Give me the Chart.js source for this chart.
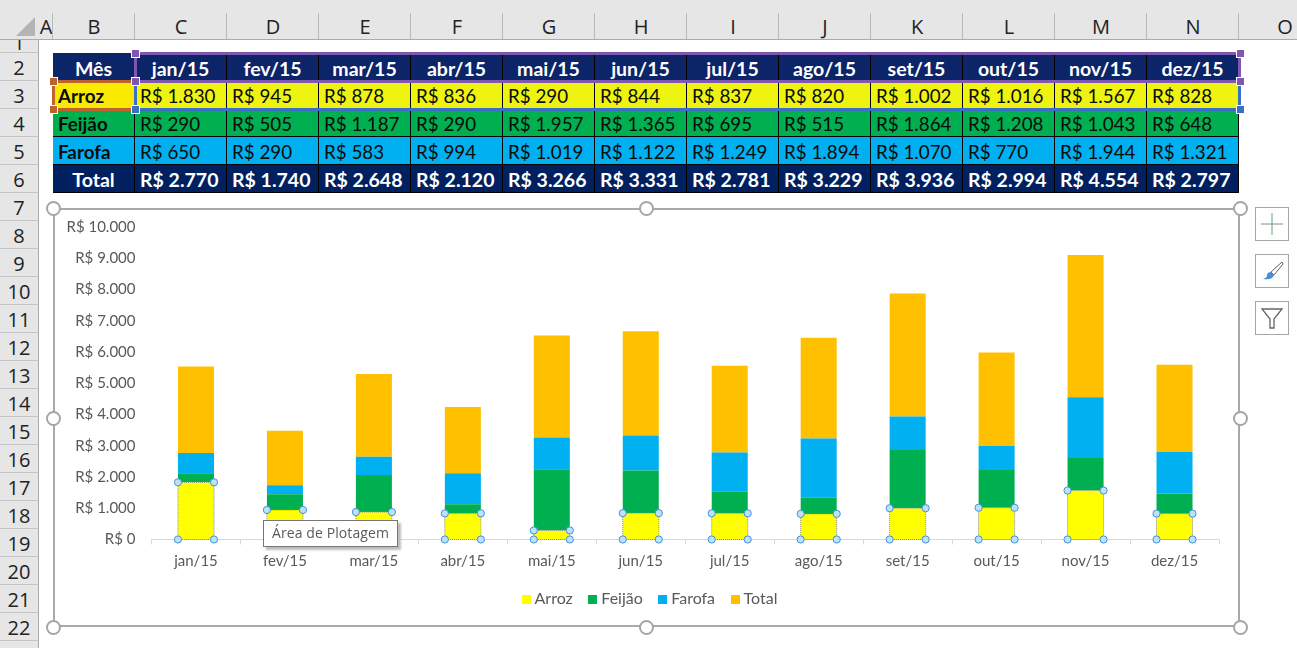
<!DOCTYPE html>
<html><head><meta charset="utf-8">
<script src="https://cdn.jsdelivr.net/npm/chart.js@4"></script>
<style>
html,body{margin:0;padding:0;background:#fff;width:1297px;height:648px;overflow:hidden}
#sheet{position:relative;width:1297px;height:648px;overflow:hidden;font-family:Lato,sans-serif}
.a{position:absolute;box-sizing:border-box}
.hdr{background:#e6e6e6;color:#222;font-size:19px;display:flex;align-items:center;justify-content:center;font-family:"Open Sans",sans-serif}
.cell{display:flex;align-items:center;white-space:nowrap;font-size:18.8px;padding-top:2px;border-right:1px solid #000;border-bottom:1px solid #000;color:#0b0b0b}
.navy{background:#002060;color:#fff;font-weight:bold;font-size:19.5px;justify-content:center}
.left{padding-left:5px;justify-content:flex-start}
.hd{width:7px;height:7px;position:absolute;border:1px solid #fff;box-sizing:content-box}
.ring{position:absolute;width:11px;height:11px;border:2px solid #a6a6a6;border-radius:50%;background:#fff}
.tool{position:absolute;left:1255px;width:34px;height:34px;border:1px solid #a6a6a6;background:#fff;box-sizing:border-box}
#tip{position:absolute;left:263px;top:520px;height:25px;width:133px;background:#fff;border:1px solid #767676;box-shadow:3px 3px 2px #bdbdbd;font:14px "Open Sans",sans-serif;color:#5a5a5a;line-height:24px;text-align:center;letter-spacing:.1px}
</style></head><body><div id="sheet"></div>
<script>
const months=["jan/15","fev/15","mar/15","abr/15","mai/15","jun/15","jul/15","ago/15","set/15","out/15","nov/15","dez/15"];
const arroz=[1830,945,878,836,290,844,837,820,1002,1016,1567,828];
const feijao=[290,505,1187,290,1957,1365,695,515,1864,1208,1043,648];
const farofa=[650,290,583,994,1019,1122,1249,1894,1070,770,1944,1321];
const total=[2770,1740,2648,2120,3266,3331,2781,3229,3936,2994,4554,2797];
const seriesNames=["Arroz","Feijão","Farofa","Total"];
const seriesColors=["#FFFF00","#00B050","#00B0F0","#FFC000"];
const rowFill=["#EEF30F","#00B050","#00B0F0"];
const columnLetters=["C","D","E","F","G","H","I","J","K","L","M","N"];
const yTicks=[0,1000,2000,3000,4000,5000,6000,7000,8000,9000,10000];

const brl=v=>"R$ "+String(v).replace(/\B(?=(\d{3})+$)/g,".");
const sheet=document.getElementById("sheet");
function el(cls,l,t,w,h,txt,style){const d=document.createElement("div");d.className="a "+cls;d.style.cssText=`left:${l}px;top:${t}px;width:${w}px;height:${h}px;`+(style||"");if(txt!=null)d.textContent=txt;sheet.appendChild(d);return d}

// worksheet chrome
el("",0,0,1297,40,null,"background:#e6e6e6");
el("",0,40,39,608,null,"background:#e6e6e6");
el("",0,39,1297,1,null,"background:#ababab");
el("",38,40,1,608,null,"background:#ababab");
el("",16,17,19,19,null,"background:#b4b4b4;clip-path:polygon(100% 0,100% 100%,0 100%)");
const colX=[39,53,135];for(let i=0;i<13;i++)colX.push(135+92*(i+1));
["A","B",...columnLetters,"O"].forEach((c,i)=>{const r=colX[i+1]||1332;el("hdr",colX[i],13,r-colX[i],26,c,"background:transparent;font-size:20px");if(i<14)el("",r-1,13,1,26,null,"background:#b9b9b9")});
for(let r=1;r<=22;r++){const top=r==1?40:53+(r-2)*28,h=r==1?13:28;el("hdr",0,top,38,h,String(r),"background:transparent;overflow:hidden;border-bottom:1px solid #c4c4c4;font-size:20px;padding-top:1px;"+(r==1?"align-items:flex-end;line-height:8px;padding-top:0;padding-bottom:5px":""));}

// data table
const X=i=>135+92*i, Y=r=>53+(r-2)*28;
function cell(l,t,w,txt,cls,style){return el("cell "+cls,l,t,w,28,txt,style)}
cell(53,Y(2),82,"Mês","navy","background:#0C2468;padding-top:4px");
months.forEach((m,i)=>cell(X(i),Y(2),92,m,"navy","background:#0C2468;padding-top:4px"));
[["Arroz",arroz],["Feijão",feijao],["Farofa",farofa]].forEach(([n,a],k)=>{
 cell(53,Y(3+k),82,n,"left","font-weight:bold;background:"+(k==0?"#F9EA00":rowFill[k]));
 a.forEach((v,i)=>cell(X(i),Y(3+k),92,brl(v),"left","background:"+rowFill[k]));
});
cell(53,Y(6),82,"Total","navy");
total.forEach((v,i)=>cell(X(i),Y(6),92,brl(v),"navy left"));

// range selection outlines
const P="#7E57B0",B="#3A6FC4",O="#C0622B";
el("",135,52,1105,3,null,"background:"+P);el("",135,80,1105,3,null,"background:"+P);
el("",134,53,3,28,null,"background:"+P);el("",1238,53,3,28,null,"background:"+P);
el("",135,108,1105,3,null,"background:"+B);el("",134,81,3,28,null,"background:"+B);el("",1238,81,3,28,null,"background:"+B);
el("",52,80,83,3,null,"background:"+O);el("",52,108,83,3,null,"background:"+O);el("",52,81,3,28,null,"background:"+O);
[[135,53,P],[1240,53,P],[135,81,P],[1240,81,P],[135,109,B],[1240,109,B],[53,81,O],[53,109,O]].forEach(([x,y,c])=>{const d=document.createElement("div");d.className="hd";d.style.cssText+=`left:${x-4}px;top:${y-4}px;background:${c}`;sheet.appendChild(d)});

// chart frame
el("",53,208,1187,419,null,"border:2px solid #a9a9a9;background:#fff");
const cw=document.createElement("canvas");cw.style.cssText="position:absolute;left:0;top:0;display:block";cw.width=1183;cw.height=415;
el("",55,210,1183,415).appendChild(cw);
[[53,208],[646,208],[1240,208],[53,418],[1240,418],[53,627],[646,627],[1240,627]].forEach(([x,y])=>{const d=document.createElement("div");d.className="ring";d.style.left=x-7+"px";d.style.top=y-7+"px";sheet.appendChild(d)});

// side tool buttons
const t1=document.createElement("div");t1.className="tool";t1.style.top="207px";t1.innerHTML='<svg width="32" height="32"><path d="M5 16h22" stroke="#8a8a8a"/><path d="M16 5v22" stroke="#5aa86f"/></svg>';sheet.appendChild(t1);
const t2=document.createElement("div");t2.className="tool";t2.style.top="254px";t2.innerHTML='<svg width="32" height="32"><path d="M26 7l1 2-9 11-3-3z" fill="#fff" stroke="#666"/><path d="M15 17l3 3c-1 4-5 5-11 4 3-1 4-2 4-4s2-3 4-3z" fill="#4a90d9"/></svg>';sheet.appendChild(t2);
const t3=document.createElement("div");t3.className="tool";t3.style.top="301px";t3.innerHTML='<svg width="32" height="32"><path d="M6 7h20l-8 10v9h-4v-9z" fill="#fff" stroke="#666" stroke-width="1.3"/></svg>';sheet.appendChild(t3);

// selection handles of the first series, taken from the library's bar elements
const handles={id:"handles",afterDatasetsDraw(c){const g=c.ctx,m=c.getDatasetMeta(0);
 m.data.forEach(b=>{const p=b.getProps(["x","y","base","width"]);const l=p.x-p.width/2,r=p.x+p.width/2;
  g.save();g.setLineDash([1,1]);g.strokeStyle="#8c8c8c";g.lineWidth=1;g.strokeRect(l,p.y,p.width,p.base-p.y);g.setLineDash([]);
  [[l,p.y],[r,p.y],[l,p.base],[r,p.base]].forEach(([x,y])=>{g.beginPath();g.arc(x,y,3.6,0,7);g.fillStyle="#BFE0F7";g.fill();g.strokeStyle="#3F94DA";g.lineWidth=1;g.stroke()});
  g.restore()})}};

// legend swatches: small canvases so the gap to the text can be as tight as in the reference
const swatches=seriesColors.map(col=>{const s=document.createElement("canvas");s.width=9;s.height=9;const x=s.getContext("2d");x.fillStyle=col;x.fillRect(0,0,9,9);return s});

const fontFam="Lato, sans-serif";
new Chart(cw,{type:"bar",plugins:[handles],
 data:{labels:months,datasets:[arroz,feijao,farofa,total].map((d,i)=>({label:seriesNames[i],data:d,backgroundColor:seriesColors[i],stack:"s",barPercentage:.81,categoryPercentage:.5}))},
 options:{responsive:false,animation:false,
  layout:{padding:{top:10,right:0,bottom:8,left:10}},
  plugins:{tooltip:{enabled:false},title:{display:false},
   legend:{position:"bottom",align:"center",labels:{usePointStyle:true,pointStyleWidth:1,boxHeight:9,padding:19.5,color:"#595959",font:{family:fontFam,size:16},
     generateLabels(ch){const it=Chart.defaults.plugins.legend.labels.generateLabels(ch);it.forEach((o,i)=>o.pointStyle=swatches[i]);return it}}}},
  scales:{
   x:{stacked:true,border:{color:"#d9d9d9"},grid:{display:true,drawOnChartArea:false,drawTicks:true,tickLength:5,color:"#d9d9d9",offset:true},
      afterFit(s){s.height-=7},
      ticks:{color:"#595959",padding:8,font:{family:fontFam,size:15},maxRotation:0,autoSkip:false}},
   y:{stacked:true,min:0,max:10000,afterFit(s){s.width=86.5},afterBuildTicks(s){s.ticks=yTicks.map(v=>({value:v}))},
      border:{display:false},grid:{display:false},
      ticks:{color:"#595959",padding:8,font:{family:fontFam,size:15},callback:v=>brl(v)}},
   spacer:{position:"right",display:true,min:0,max:1,afterFit(s){s.width=19},border:{display:false},grid:{display:false},ticks:{display:false}}
  }}});

const tip=document.createElement("div");tip.id="tip";tip.textContent="Área de Plotagem";sheet.appendChild(tip);
</script></body></html>
